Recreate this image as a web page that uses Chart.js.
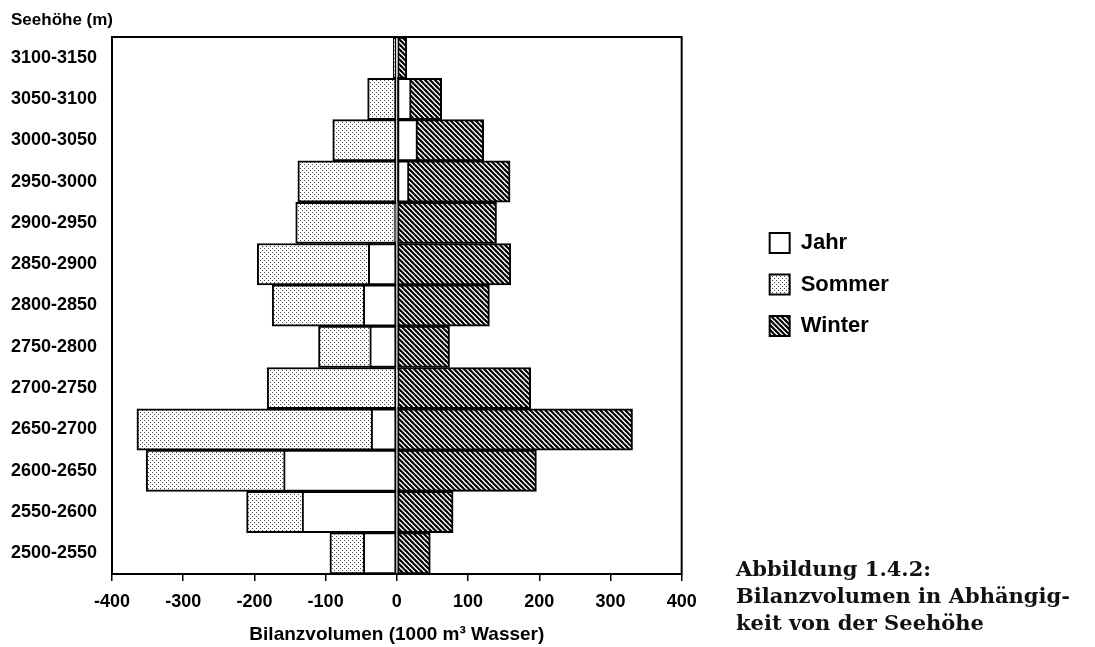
<!DOCTYPE html>
<html>
<head>
<meta charset="utf-8">
<script src="https://cdn.jsdelivr.net/npm/chart.js@4.4.1/dist/chart.umd.min.js"></script>
<style>
  body { margin: 0; background: #fff; }
  #wrap { position: relative; width: 1095px; height: 647px; }
  #caption { position: absolute; left: 736px; top: 555px; font: bold 21px/27px 'DejaVu Serif', serif; color: #111; }
</style>
</head>
<body>
<div id="wrap">
  <canvas id="chart" width="1095" height="647"></canvas>
  <div id="caption">Abbildung 1.4.2:<br>Bilanzvolumen in Abhängig-<br>keit von der Seehöhe</div>
</div>
<script>
// Seehöhe classes, top to bottom
const heights = ['3100-3150', '3050-3100', '3000-3050', '2950-3000', '2900-2950', '2850-2900',
  '2800-2850', '2750-2800', '2700-2750', '2650-2700', '2600-2650', '2550-2600', '2500-2550'];
// Bilanzvolumen in 1000 m³ Wasser
const jahr = [1, 20, 29, 17, -4, -40, -47, -38, 1, -36, -159, -133, -47];
const sommer = [-5, -41, -90, -139, -142, -196, -175, -110, -182, -365, -352, -211, -94];
const winter = [14, 63, 122, 159, 140, 160, 130, 74, 188, 331, 196, 79, 47];
const xMin = -400, xMax = 400, xStep = 100;

function makePattern(size, draw) {
  const c = document.createElement('canvas');
  c.width = size; c.height = size;
  const g = c.getContext('2d');
  g.fillStyle = '#fff';
  g.fillRect(0, 0, size, size);
  draw(g, size);
  return g.createPattern(c, 'repeat');
}

const ctx = document.getElementById('chart').getContext('2d');

const dots = makePattern(4, (g) => {
  g.fillStyle = '#444';
  g.fillRect(0, 0, 1, 1);
  g.fillRect(2, 2, 1, 1);
});

const hatch = makePattern(5, (g, s) => {
  g.strokeStyle = '#000';
  g.lineWidth = 2.2;
  for (let k = -1; k <= 1; k++) {
    g.beginPath();
    g.moveTo(k * s - 1, -1);
    g.lineTo(k * s + s + 1, s + 1);
    g.stroke();
  }
});

const frame = {
  id: 'frame',
  afterDatasetsDraw(chart) {
    const a = chart.chartArea;
    const c = chart.ctx;
    c.save();
    c.strokeStyle = '#000';
    c.lineWidth = 2;
    c.strokeRect(a.left, a.top, a.right - a.left, a.bottom - a.top);
    c.restore();
  }
};

Chart.defaults.font.family = "'Liberation Sans', Arial, sans-serif";
Chart.defaults.color = '#000';

new Chart(ctx, {
  type: 'bar',
  data: {
    labels: heights,
    datasets: [
      { label: 'Jahr', data: jahr, backgroundColor: '#fff' },
      { label: 'Sommer', data: sommer, backgroundColor: dots },
      { label: 'Winter', data: winter, backgroundColor: hatch },
    ],
  },
  options: {
    indexAxis: 'y',
    responsive: false,
    animation: false,
    datasets: {
      bar: {
        grouped: false,
        barPercentage: 1,
        categoryPercentage: 1,
        borderColor: '#000',
        borderWidth: 2,
        borderSkipped: false,
      },
    },
    layout: { padding: { left: 11, right: 197, top: 0, bottom: 0 } },
    scales: {
      x: {
        min: xMin,
        max: xMax,
        ticks: { stepSize: xStep, padding: 10, font: { size: 18, weight: 'bold' } },
        grid: { drawOnChartArea: false, color: '#000', lineWidth: 1.5, tickLength: 7 },
        border: { display: false },
        title: {
          display: true,
          text: 'Bilanzvolumen (1000 m³ Wasser)',
          font: { size: 19, weight: 'bold' },
          padding: { top: 0, bottom: 1 },
        },
        afterFit: (s) => { s.height = 73; },
      },
      y: {
        grid: { display: false },
        border: { display: false },
        ticks: { crossAlign: 'far', font: { size: 18, weight: 'bold' } },
        afterFit: (s) => { s.width = 101; },
      },
      yR: {
        type: 'category',
        position: 'right',
        grid: { display: false },
        border: { display: false },
        ticks: { display: false },
        afterFit: (s) => { s.width = 68.5; },
      },
    },
    plugins: {
      tooltip: { enabled: false },
      title: {
        display: true,
        text: 'Seehöhe (m)',
        align: 'start',
        font: { size: 17, weight: 'bold' },
        padding: { top: 10, bottom: 6.6 },
      },
      legend: {
        position: 'right',
        align: 'start',
        title: { display: true, text: '', font: { size: 10, lineHeight: 1 }, padding: { top: 202.5, bottom: 0 } },
        labels: { boxWidth: 20, boxHeight: 20, padding: 19.5, font: { size: 22, weight: 'bold' }, color: '#000' },
      },
    },
  },
  plugins: [frame],
});
</script>
</body>
</html>
